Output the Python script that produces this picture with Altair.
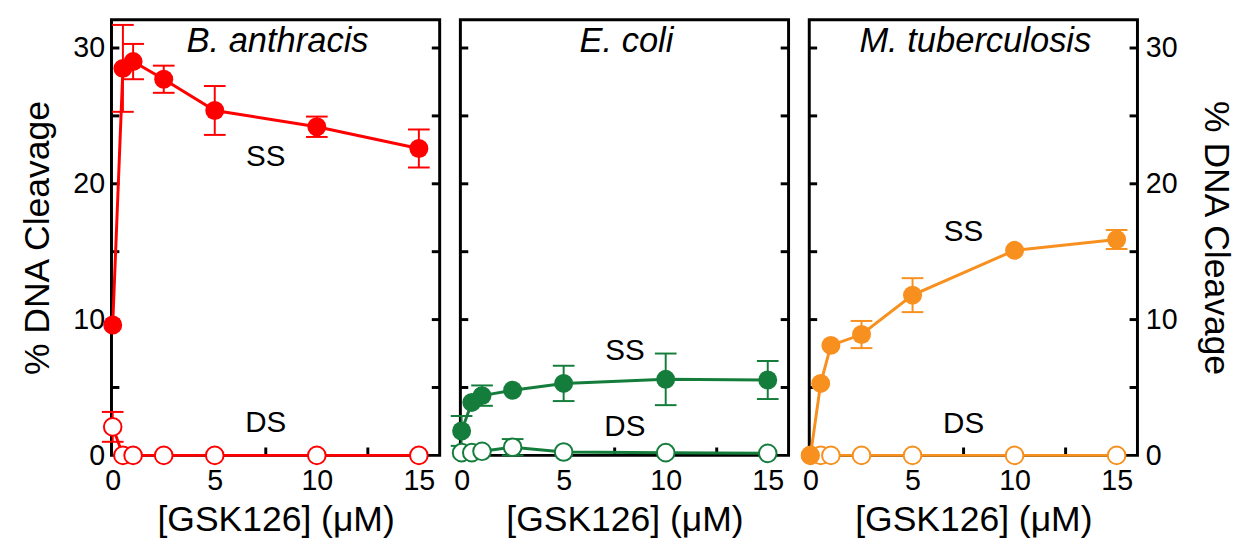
import altair as alt
import pandas as pd

# ---------------- data ----------------
conc = [0, 0.5, 1, 2.5, 5, 10, 15]
species = ["B. anthracis", "E. coli", "M. tuberculosis"]
colors = ["#ff0000", "#157d3c", "#f7901e"]

ba_ss = [9.6, 28.5, 29.0, 27.7, 25.4, 24.2, 22.6]
ba_ss_err = [0, 3.2, 1.3, 1.0, 1.8, 0.75, 1.4]
ba_ds = [2.1, 0, 0, 0, 0, 0, 0]
ba_ds_err = [1.1, 0, 0, 0, 0, 0, 0]

ec_ss = [1.8, 3.9, 4.4, 4.8, 5.3, 5.6, 5.55]
ec_ss_err = [1.1, 0, 0.75, 0, 1.3, 1.9, 1.4]
ec_ds = [0.2, 0.2, 0.3, 0.6, 0.25, 0.2, 0.15]
ec_ds_err = [0, 0, 0, 0.6, 0, 0, 0]

mt_ss = [0, 5.3, 8.1, 8.9, 11.8, 15.1, 15.9]
mt_ss_err = [0, 0, 0, 1.0, 1.25, 0, 0.7]
mt_ds = [0, 0, 0, 0, 0, 0, 0]
mt_ds_err = [0, 0, 0, 0, 0, 0, 0]

series = [
    (ba_ss, ba_ss_err, ba_ds, ba_ds_err),
    (ec_ss, ec_ss_err, ec_ds, ec_ds_err),
    (mt_ss, mt_ss_err, mt_ds, mt_ds_err),
]

# annotation labels (x, y in data units)
ss_label_x = [7.5, 8.0, 7.5]
ss_label_y = [22.0, 7.7, 16.45]
ds_label_x = [7.5, 8.0, 7.5]
ds_label_y = [2.37, 2.05, 2.3]

x_label_vals = [0, 5, 10, 15]
y_label_vals = [0, 10, 20, 30]
x_minor_ticks = [2.5, 5, 7.5, 10, 12.5]
y_minor_ticks = [5, 10, 15, 20, 25, 30]

x_title = "[GSK126] (μM)"
y_title = "% DNA Cleavage"

W, H = 333, 442
FONT = "Liberation Sans"
TL = 8  # inner tick length

xscale = alt.Scale(domain=[-0.06, 16.02], nice=False, zero=False)
yscale = alt.Scale(domain=[0, 32.08], nice=False, zero=False)


def panel(i, y_orient):
    color = colors[i]
    ss, sse, ds, dse = series[i]
    rows = []
    for k, xv in enumerate(conc):
        rows.append({"x": xv, "v": ss[k], "err": sse[k], "kind": "SS"})
        rows.append({"x": xv, "v": ds[k], "err": dse[k], "kind": "DS"})
    df = pd.DataFrame(rows)
    df["lo"] = df["v"] - df["err"]
    df["hi"] = df["v"] + df["err"]

    xaxis = alt.Axis(values=x_label_vals, title=x_title, labelPadding=12,
                     titlePadding=7)
    if y_orient is None:
        yaxis = None
    elif y_orient == "left":
        yaxis = alt.Axis(orient="left", values=y_label_vals, title=y_title,
                         labelPadding=7, titlePadding=17)
    else:
        yaxis = alt.Axis(orient="right", values=y_label_vals, title=y_title,
                         labelPadding=8, titlePadding=20)

    X = alt.X("x:Q", scale=xscale, axis=xaxis)
    Y = alt.Y("v:Q", scale=yscale, axis=yaxis)

    base = alt.Chart(df)

    # inner ticks
    yt = alt.Chart(pd.DataFrame({"v": y_minor_ticks}))
    lt = yt.mark_rule(color="black", strokeWidth=3).encode(
        y=Y, x=alt.value(0), x2=alt.value(TL))
    rt = yt.mark_rule(color="black", strokeWidth=3).encode(
        y=Y, x=alt.value(W - TL), x2=alt.value(W))
    xt = alt.Chart(pd.DataFrame({"x": x_minor_ticks})).mark_rule(
        color="black", strokeWidth=3).encode(
        x=X, y=alt.value(H - TL), y2=alt.value(H))

    lines = base.mark_line(color=color, strokeWidth=3).encode(
        x=X, y=Y, detail="kind:N", order="x:Q")

    eb = base.transform_filter("datum.err > 0")
    bars = eb.mark_rule(color=color, strokeWidth=2).encode(
        x=X, y=alt.Y("lo:Q", scale=yscale, axis=yaxis), y2="hi:Q")
    cap_lo = eb.mark_tick(color=color, orient="horizontal", size=22,
                          thickness=2, opacity=1).encode(
        x=X, y=alt.Y("lo:Q", scale=yscale, axis=yaxis))
    cap_hi = eb.mark_tick(color=color, orient="horizontal", size=22,
                          thickness=2, opacity=1).encode(
        x=X, y=alt.Y("hi:Q", scale=yscale, axis=yaxis))

    open_pts = base.transform_filter("datum.kind == 'DS'").mark_point(
        shape="circle", filled=True, fill="white", stroke=color,
        strokeWidth=2, size=320, opacity=1).encode(x=X, y=Y)
    fill_pts = base.transform_filter("datum.kind == 'SS'").mark_point(
        shape="circle", filled=True, color=color, size=370,
        opacity=1).encode(x=X, y=Y)

    lab_df = pd.DataFrame({
        "x": [ss_label_x[i], ds_label_x[i]],
        "v": [ss_label_y[i], ds_label_y[i]],
        "t": ["SS", "DS"],
    })
    labels = alt.Chart(lab_df).mark_text(
        font=FONT, fontSize=30, color="black", baseline="middle",
        align="center").encode(x=X, y=Y, text="t:N")

    title = alt.Chart(pd.DataFrame({"t": [species[i]]})).mark_text(
        font=FONT, fontSize=35, fontStyle="italic", color="black",
        baseline="alphabetic", align="center").encode(
        text="t:N", x=alt.value(W / 2 + 2), y=alt.value(33))

    return alt.layer(lt, rt, xt, lines, bars, cap_lo, cap_hi, open_pts,
                     fill_pts, labels, title).properties(width=W, height=H)


chart = alt.hconcat(
    panel(0, "left"), panel(1, None), panel(2, "right"),
    spacing=21, bounds="flush",
).properties(
    padding={"left": 10, "top": 6, "right": 2, "bottom": 2}
).configure_view(
    stroke="black", strokeWidth=3
).configure_axis(
    grid=False, domain=False, ticks=False,
    labelFont=FONT, labelFontSize=29, labelColor="black",
    titleFont=FONT, titleFontSize=36, titleFontWeight="normal",
    titleColor="black",
)

chart.save("out.html", embed_options={"renderer": "svg", "actions": False})
